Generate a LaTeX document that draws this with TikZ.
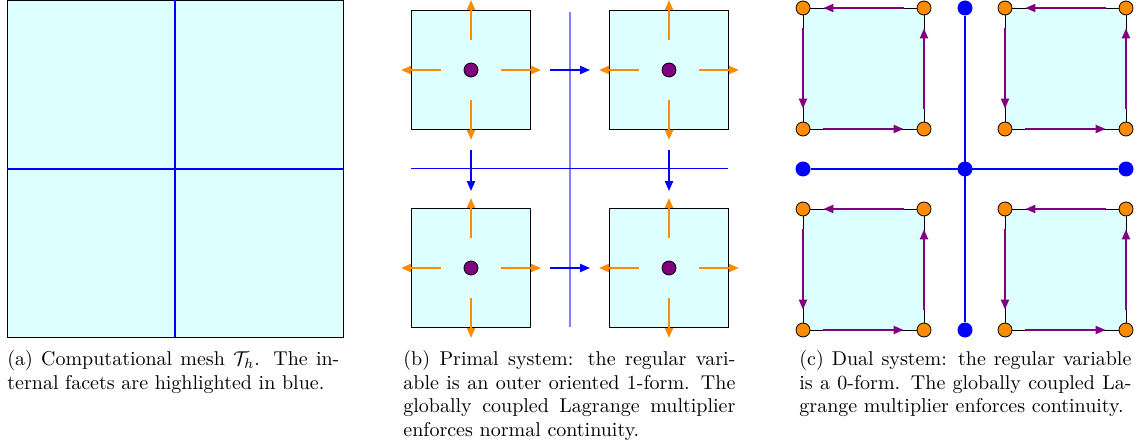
\documentclass[tikz,border=0pt]{standalone}
\usepackage{amsmath}
\usepackage{amssymb}
\usepackage{tikz}
\usetikzlibrary{calc, positioning, arrows.meta}

\definecolor{cellcyan}{RGB}{222,255,255}
\definecolor{dofpurple}{RGB}{128,0,128}
\definecolor{doforange}{RGB}{255,140,0}

\tikzset{
	cell/.style={draw=black, fill=cellcyan, minimum size=59.5pt, inner sep=0pt},
	dofdot/.style={circle, draw=black, fill=dofpurple, minimum size=7pt, inner sep=0pt},
	vertexdot/.style={circle, draw=black, fill=doforange, minimum size=7pt, inner sep=0pt},
	lagdot/.style={circle, fill=blue, minimum size=7.5pt, inner sep=0pt},
	flux/.style={doforange, line width=1pt, arrows={-Triangle[length=5pt,width=4pt]}},
	jump/.style={blue, line width=1pt, arrows={-Triangle[length=5pt,width=4pt]}},
	circul/.style={dofpurple, line width=1pt, arrows={-Triangle[length=5pt,width=4pt]}},
	facet/.style={blue, line width=0.6pt},
	subcap/.style={text width=166pt, align=justify, inner sep=0pt, anchor=north west, font=\fontsize{10pt}{11.8pt}\selectfont}
}

\begin{document}
\begin{tikzpicture}[x=0.5pt, y=-0.5pt]
	\useasboundingbox (0,0) rectangle (1140,443);
	
	%Malla
	\filldraw[fill=cellcyan, draw=black] (7,0) rectangle (343,337);
	\draw[facet] (175,0) -- (175,337);
	\draw[facet] (7,169) -- (343,169);
	
	%Sistema primal
	\draw[blue!50, line width=0.7pt] (570,12) -- (570,327);
	\draw[blue, line width=0.5pt] (411,169) -- (728,169);
	\foreach \name/\x/\y in {b11/471/70, b12/669/70, b21/471/268, b22/669/268} {
		\node[cell] (\name) at (\x,\y) {};
		\node[dofdot] (\name-u) at (\name) {};
		\draw[flux] ([xshift=15pt]\name.center) -- ++(40,0);
		\draw[flux] ([xshift=-15pt]\name.center) -- ++(-40,0);
		\draw[flux] ([yshift=15pt]\name.center) -- ++(0,-40);
		\draw[flux] ([yshift=-15pt]\name.center) -- ++(0,40);
	}
	\draw[jump, shorten <=9.5pt, shorten >=9.5pt] (b11.east) -- (b12.west);
	\draw[jump, shorten <=9.5pt, shorten >=9.5pt] (b21.east) -- (b22.west);
	\draw[jump, shorten <=10pt, shorten >=8.5pt] (b11.south) -- (b21.north);
	\draw[jump, shorten <=10pt, shorten >=8.5pt] (b12.south) -- (b22.north);
	
	%Sistema dual
	\node[lagdot] (l-n) at (965,8) {};
	\node[lagdot] (l-w) at (803,169) {};
	\node[lagdot] (l-c) at (965,169) {};
	\node[lagdot] (l-e) at (1126,169) {};
	\node[lagdot] (l-s) at (965,330) {};
	\draw[facet] (l-n) -- (l-s);
	\draw[facet] (l-w) -- (l-e);
	\foreach \name/\xa/\ya/\xb/\yb in {c11/803/8/924/129, c12/1005/8/1126/129, c21/803/209/924/330, c22/1005/209/1126/330} {
		\filldraw[fill=cellcyan, draw=black] (\xa,\ya) rectangle (\xb,\yb);
		\node[vertexdot] (\name-nw) at (\xa,\ya) {};
		\node[vertexdot] (\name-ne) at (\xb,\ya) {};
		\node[vertexdot] (\name-sw) at (\xa,\yb) {};
		\node[vertexdot] (\name-se) at (\xb,\yb) {};
		\draw[circul, shorten <=6.5pt, shorten >=6.5pt] (\name-ne) -- (\name-nw);
		\draw[circul, shorten <=6.5pt, shorten >=6.5pt] (\name-nw) -- (\name-sw);
		\draw[circul, shorten <=6.5pt, shorten >=6.5pt] (\name-sw) -- (\name-se);
		\draw[circul, shorten <=6.5pt, shorten >=6.5pt] (\name-se) -- (\name-ne);
	}
	
	%Leyendas
	\node[subcap] (cap-a) at (7,350) {(a) Computational mesh $\mathcal{T}_h$. The in-\linebreak{}ternal facets are highlighted in blue.};
	\node[subcap] (cap-b) at (403,350) {(b) Primal system: the regular vari-\linebreak{}able is an outer oriented 1-form. The\linebreak{} globally coupled Lagrange multiplier\linebreak{} enforces normal continuity.};
	\node[subcap] (cap-c) at (799,350) {(c) Dual system: the regular variable\linebreak{} is a 0-form. The globally coupled La-\linebreak{}grange multiplier enforces continuity.};
	
\end{tikzpicture}
\end{document}
